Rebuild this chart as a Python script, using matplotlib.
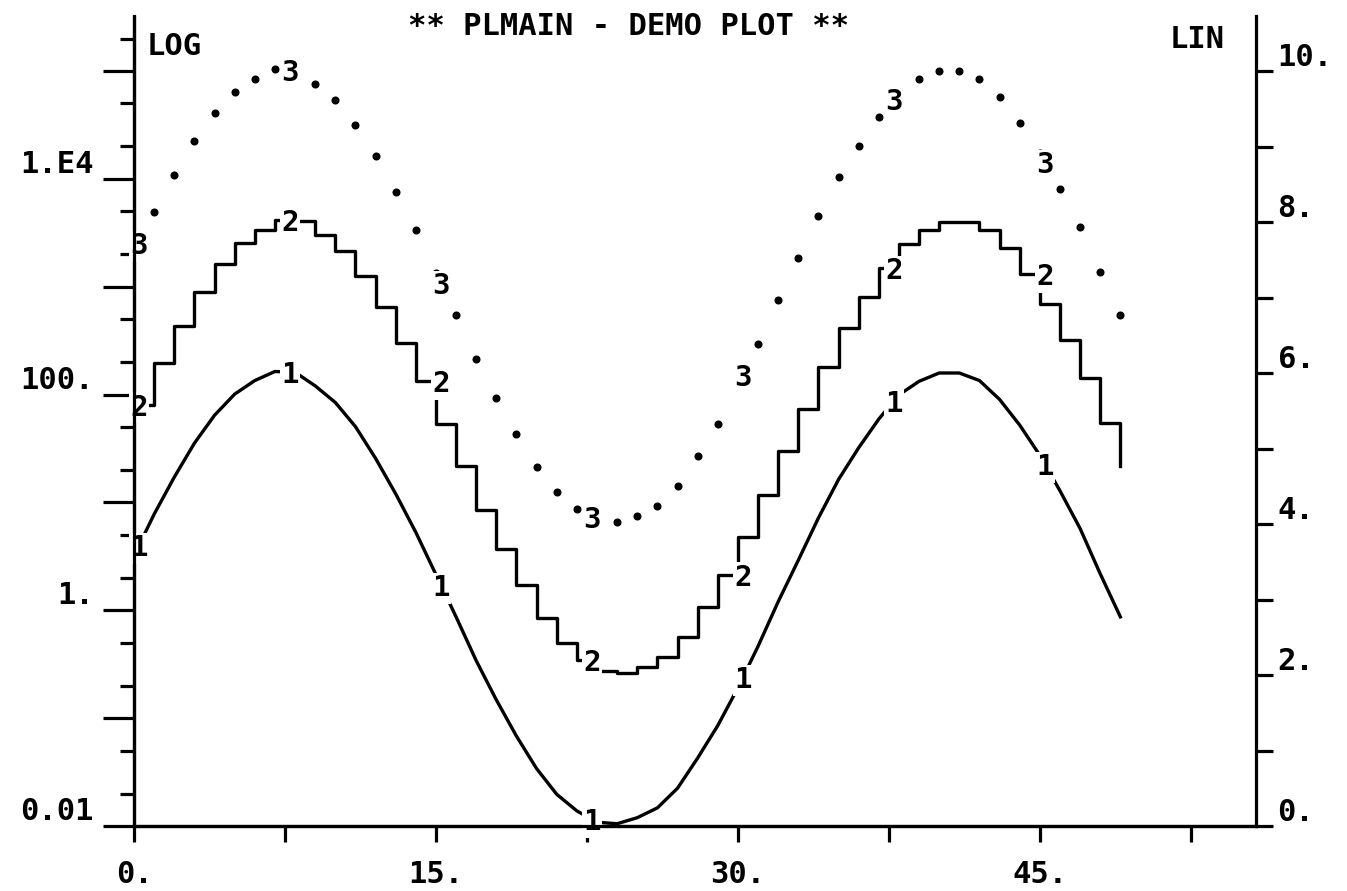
import numpy as np
import matplotlib
matplotlib.use('Agg')
import matplotlib.pyplot as plt
from matplotlib.ticker import NullFormatter
from matplotlib.transforms import ScaledTranslation

# plotter-style font
plt.rcParams['font.family'] = ['DejaVu Sans Mono']
plt.rcParams['font.weight'] = 'bold'

# values (right hand LIN scale)
x_vals = list(range(50))
curve1 = [3.58, 4.13, 4.62, 5.07, 5.44, 5.72, 5.90, 6.02, 6.01, 5.83,
          5.61, 5.29, 4.87, 4.40, 3.89, 3.33, 2.77, 2.19, 1.67, 1.19,
          0.76, 0.42, 0.20, 0.05, 0.03, 0.11, 0.24, 0.50, 0.90, 1.33,
          1.83, 2.38, 2.97, 3.52, 4.08, 4.59, 5.01, 5.39, 5.71, 5.89,
          6.00, 6.00, 5.90, 5.65, 5.31, 4.91, 4.44, 3.94, 3.34, 2.77]
curve2 = [5.58, 6.13, 6.62, 7.07, 7.44, 7.72, 7.90, 8.02, 8.01, 7.83,
          7.61, 7.29, 6.87, 6.40, 5.89, 5.33, 4.77, 4.19, 3.67, 3.19,
          2.76, 2.42, 2.20, 2.05, 2.03, 2.11, 2.24, 2.50, 2.90, 3.33,
          3.83, 4.38, 4.97, 5.52, 6.08, 6.59, 7.01, 7.39, 7.71, 7.89,
          8.00, 8.00, 7.90, 7.65, 7.31, 6.91, 6.44, 5.94, 5.34, 4.77]
curve3 = [7.58, 8.13, 8.62, 9.07, 9.44, 9.72, 9.90, 10.02, 10.01, 9.83,
          9.61, 9.29, 8.87, 8.40, 7.89, 7.33, 6.77, 6.19, 5.67, 5.19,
          4.76, 4.42, 4.20, 4.05, 4.03, 4.11, 4.24, 4.50, 4.90, 5.33,
          5.83, 6.38, 6.97, 7.52, 8.08, 8.59, 9.01, 9.39, 9.71, 9.89,
          10.00, 10.00, 9.90, 9.65, 9.31, 8.91, 8.44, 7.94, 7.34, 6.77]
label_x = [0, 7.5, 15, 22.5, 30, 37.5, 45]

x_ticks = [0, 7.5, 15, 22.5, 30, 37.5, 45, 52.5]
x_ticklabels = ['0.', '', '15.', '', '30.', '', '45.', '']
log_major = [1e-2, 1e-1, 1, 10, 100, 1e3, 1e4, 1e5]
log_labels = ['0.01', '', '1.', '', '100.', '', '1.E4', '']
log_minor = [2e-2, 5e-2, 2e-1, 5e-1, 2, 5, 20, 50, 200, 500,
             2e3, 5e3, 2e4, 5e4, 2e5]
lin_major = [0, 2, 4, 6, 8, 10]
lin_labels = ['0.', '2.', '4.', '6.', '8.', '10.']
lin_minor = [1, 3, 5, 7, 9]

W, H = 1347, 891
FS = 22
fig = plt.figure(figsize=(W / 100, H / 100), dpi=100)
ax = fig.add_axes([134 / W, (H - 826) / H, 1122 / W, (826 - 16.5) / H])
ax.patch.set_visible(False)

lin_top = (826 - 16.5) / 75.5
ax.set_xlim(0, 1122 / 20.13)
ax.set_yscale('log')
ax.set_ylim(1e-2, 10 ** (-2 + 0.7 * lin_top))

ax2 = ax.twinx()
ax2.set_ylim(0, lin_top)

for a in (ax, ax2):
    a.spines['top'].set_visible(False)
    for s in ('left', 'right', 'bottom'):
        a.spines[s].set_linewidth(2.3)
ax.spines['right'].set_visible(False)
for s in ('left', 'right', 'bottom'):
    ax2.spines[s].set_zorder(6)

# x axis
ax.set_xticks(x_ticks, x_ticklabels)
ax.tick_params(axis='x', direction='out', length=11.5, width=2.3, pad=13,
               labelsize=FS)

# left LOG axis
ax.set_yticks(log_major, log_labels)
ax.set_yticks(log_minor, minor=True)
ax.yaxis.set_minor_formatter(NullFormatter())
ax.tick_params(axis='y', which='major', direction='out', length=22, width=2.3,
               pad=7, labelsize=FS)
ax.tick_params(axis='y', which='minor', direction='out', length=10, width=2.3)

# right LIN axis
ax2.set_yticks(lin_major, lin_labels)
ax2.set_yticks(lin_minor, minor=True)
ax2.tick_params(axis='y', which='major', direction='out', length=12.5, width=2.3,
                pad=3, labelsize=FS)
ax2.tick_params(axis='y', which='minor', direction='out', length=12, width=2.3)

# raise y labels so they sit just above their tick
up_left = ScaledTranslation(0, 0.06, fig.dpi_scale_trans)
up_right = ScaledTranslation(0, 0.05, fig.dpi_scale_trans)
for lbl in ax.get_yticklabels():
    lbl.set_va('baseline')
    lbl.set_transform(lbl.get_transform() + up_left)
for lbl in ax2.get_yticklabels():
    lbl.set_va('baseline')
    lbl.set_transform(lbl.get_transform() + up_right)

# the three curves
ax2.plot(x_vals, curve1, color='black', lw=2.4, zorder=3)
ax2.step(x_vals, curve2, where='post', color='black', lw=2.4, zorder=3)
ax2.plot(x_vals, curve3, 'o', color='black', ms=4.8, zorder=3)

box = dict(fc='white', ec='none', pad=1.0)
for xl in label_x:
    xp = xl + 0.25
    ax2.text(xp, np.interp(xp, x_vals, curve1), '1', ha='center',
             va='center_baseline', fontsize=FS - 1, bbox=box, zorder=4)
    i2 = max(int(np.ceil(xl)) - 1, 0)
    ax2.text(xp, curve2[i2], '2', ha='center', va='center_baseline',
             fontsize=FS - 1, bbox=box, zorder=4)
    ax2.text(xp, np.interp(xp, x_vals, curve3), '3', ha='center',
             va='center_baseline', fontsize=FS - 1, bbox=box, zorder=4)

fig.text(628 / W, 1 - 35 / H, '** PLMAIN - DEMO PLOT **', ha='center',
         va='baseline', fontsize=FS)
fig.text(147 / W, 1 - 55 / H, 'LOG', ha='left', va='baseline', fontsize=FS)
fig.text(1225 / W, 1 - 48 / H, 'LIN', ha='right', va='baseline', fontsize=FS)

fig.savefig('out.png', dpi=100, facecolor='white')
